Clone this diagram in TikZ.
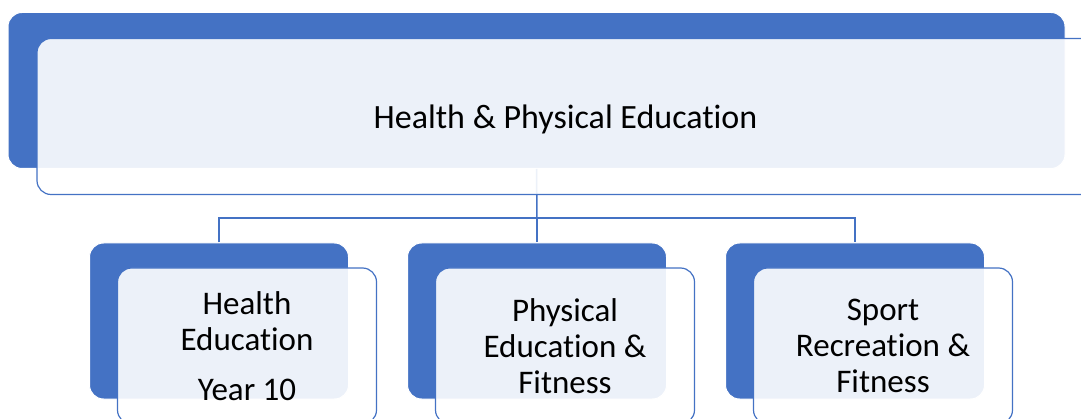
\documentclass[tikz,border=0pt]{standalone}
\usepackage{fontspec}
\setmainfont[Ligatures=NoCommon]{Carlito}
\definecolor{smblue}{HTML}{4472C4}
\begin{document}
\begin{tikzpicture}[x=1pt, y=-1pt,
    backbox/.style={rectangle, rounded corners=14pt, fill=smblue, draw=white, line width=1pt,
      minimum width=259pt, minimum height=156pt, inner sep=0pt},
    frontbox/.style={rectangle, rounded corners=14pt, fill=white, fill opacity=0.9, text opacity=1,
      draw=smblue, line width=1.2pt, minimum width=259pt, minimum height=156pt,
      align=center, inner sep=0pt, font=\fontsize{33}{36}\selectfont},
    link/.style={draw=smblue, line width=1.5pt}]
        \useasboundingbox (0,0) rectangle (1081,419);
        \clip (0,0) rectangle (1081,419);

        \node[backbox, minimum width=1057pt] (topback) at (536.5,90.5) {};
        \node[backbox] (healthback) at (219,321) {};
        \node[backbox] (physback) at (537,321) {};
        \node[backbox] (sportback) at (855,321) {};

        \coordinate (bar) at (537,218);
        \draw[link] (topback.south) -- (bar);
        \draw[link] (healthback.north) |- (bar) -| (sportback.north);
        \draw[link] (bar) -- (physback.north);

        \node[frontbox, minimum width=1057pt, font=\fontsize{34}{38}\selectfont] (top) at (565.5,116.5) {\raisebox{-3pt}[\height][\depth]{Health \& Physical Education}};
        \node[frontbox] (health) at (247,346) {Health\\Education\\[14pt]Year 10};
        \node[frontbox] (phys) at (565,346) {Physical\\Education \&\\Fitness};
        \node[frontbox] (sport) at (883,346) {Sport\\Recreation \&\\Fitness};
      \end{tikzpicture}
\end{document}
